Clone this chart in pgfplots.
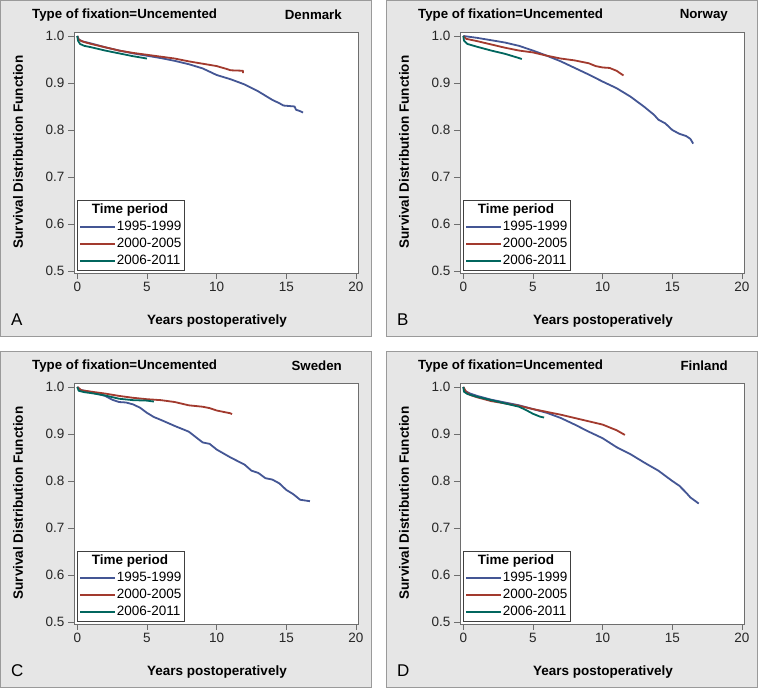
\documentclass[border=0pt]{standalone}
\usepackage{fontspec}
\setmainfont{Liberation Sans}
\usepackage{pgfplots}
\usepackage{pgfplotstable}
\pgfplotsset{compat=1.18}
\definecolor{sasblue}{HTML}{445694}
\definecolor{sasred}{HTML}{A23A2E}
\definecolor{sasgreen}{HTML}{01665E}
\definecolor{panelbg}{HTML}{E6E6E6}
\definecolor{panelframe}{HTML}{9A9A9A}
\definecolor{axisgray}{HTML}{6E6E6E}

% ---------------- Denmark ----------------
\pgfplotstableread{
x y
0 1.0
0.1 0.993
0.3 0.989
1 0.984
2 0.976
3 0.969
4 0.963
5 0.958
6 0.953
7 0.947
8 0.940
9 0.931
10 0.917
11 0.908
12 0.897
13 0.882
14 0.864
14.5 0.857
14.8 0.852
15.6 0.850
15.7 0.843
16 0.840
16.2 0.837
}\dkblue
\pgfplotstableread{
x y
0 1.0
0.1 0.992
0.5 0.987
1 0.983
2 0.976
3 0.969
4 0.964
5 0.960
6 0.956
7 0.952
8 0.946
9 0.941
10 0.936
10.7 0.930
11 0.927
11.9 0.926
11.9 0.921
}\dkred
\pgfplotstableread{
x y
0 1.0
0.05 0.990
0.2 0.983
0.5 0.979
1 0.976
2 0.969
3 0.963
4 0.957
5 0.952
}\dkgreen
% ---------------- Norway ----------------
\pgfplotstableread{
x y
0 1.0
0.5 0.998
1 0.996
2 0.991
3 0.986
4 0.979
5 0.969
6 0.958
7 0.946
8 0.932
9 0.918
10 0.903
11 0.889
12 0.871
13 0.849
13.7 0.832
14 0.822
14.5 0.814
15 0.800
15.5 0.792
16 0.787
16.3 0.781
16.5 0.771
}\noblue
\pgfplotstableread{
x y
0 1.0
0.2 0.994
1 0.989
2 0.982
3 0.975
4 0.969
5 0.965
6 0.958
7 0.952
8 0.948
9 0.942
9.5 0.936
10 0.933
10.5 0.932
11 0.926
11.5 0.916
}\nored
\pgfplotstableread{
x y
0 1.0
0.05 0.990
0.3 0.983
1 0.977
2 0.969
3 0.962
4 0.953
4.2 0.951
}\nogreen
% ---------------- Sweden ----------------
\pgfplotstableread{
x y
0 1.0
0.2 0.994
1 0.989
2 0.981
2.5 0.973
3 0.968
3.5 0.967
4 0.963
4.5 0.956
5 0.945
5.5 0.936
6 0.930
7 0.917
8 0.905
9 0.882
9.5 0.879
10 0.867
11 0.850
12 0.835
12.5 0.822
13 0.817
13.5 0.806
14 0.803
14.5 0.795
15 0.781
15.5 0.772
16 0.760
16.7 0.757
}\seblue
\pgfplotstableread{
x y
0 1.0
0.3 0.993
1 0.990
2 0.986
3 0.981
4 0.977
5 0.974
6 0.972
7 0.968
8 0.961
9 0.958
9.5 0.955
10 0.950
10.5 0.947
11 0.944
11.1 0.942
}\sered
\pgfplotstableread{
x y
0 1.0
0.1 0.992
0.5 0.989
1 0.987
2 0.982
3 0.975
4 0.972
5 0.971
5.5 0.969
}\segreen
% ---------------- Finland ----------------
\pgfplotstableread{
x y
0 1.0
0.1 0.992
0.5 0.986
1 0.981
2 0.973
3 0.967
4 0.961
5 0.953
6 0.945
7 0.934
8 0.920
9 0.905
10 0.891
11 0.872
12 0.857
13 0.839
14 0.822
15 0.800
15.5 0.790
16 0.775
16.3 0.765
16.9 0.752
}\fiblue
\pgfplotstableread{
x y
0 1.0
0.2 0.990
0.5 0.983
1 0.978
2 0.970
3 0.965
4 0.960
5 0.953
6 0.947
7 0.941
8 0.934
9 0.927
10 0.920
11 0.908
11.6 0.898
}\fired
\pgfplotstableread{
x y
0 1.0
0.05 0.990
0.3 0.985
1 0.979
2 0.972
3 0.965
4 0.958
4.5 0.951
5 0.943
5.5 0.937
5.8 0.935
}\figreen

\pgfplotsset{kmaxis/.style={
  scale only axis, width=284pt, height=241pt, anchor=south west,
  xmin=-0.237, xmax=20.15, ymin=0.4957, ymax=1.0085,
  xtick={0,5,10,15,20}, ytick={0.5,0.6,0.7,0.8,0.9,1.0},
  yticklabel style={/pgf/number format/.cd, fixed, fixed zerofill, precision=1},
  /pgf/number format/assume math mode=true,
  tick align=outside, xtick pos=bottom, ytick pos=left, major tick length=6pt,
  axis line style={axisgray, line width=0.8pt},
  every tick/.style={axisgray, line width=0.8pt},
  ticklabel style={font=\fontsize{13.5}{16}\selectfont, text=black!85},
  axis background/.style={fill=white},
  legend style={at={(axis description cs:0.0106,0.0083)}, anchor=south west,
    draw=black!75, line width=0.6pt, fill=white,
    font=\fontsize{13.5}{16}\selectfont, inner xsep=2pt, inner ysep=1pt,
    row sep=0pt,
    nodes={inner sep=1pt, text height=11pt, text depth=4pt, anchor=west}},
  legend cell align=left,
  legend image code/.code={\draw[#1, line width=1.5pt] (0pt,0pt) -- (35pt,0pt);},
  every axis plot/.append style={line width=1.8pt, line join=round},
}}

\newcommand{\panel}[4]{%
  \filldraw[fill=panelbg, draw=panelframe, line width=1pt] (#1pt+0.5pt,#2pt-0.5pt) rectangle (#1pt+371.5pt,#2pt-336.5pt);
  \node[anchor=west, inner sep=0pt, font=\fontsize{13.3}{16}\selectfont\bfseries] at (#1pt+32pt,#2pt-15pt) {Type of fixation=Uncemented};
  \node[anchor=east, inner sep=0pt, font=\fontsize{13.3}{16}\selectfont\bfseries] at (#1pt+342pt,#2pt-15pt) {#3};
  \node[rotate=90, font=\fontsize{13.5}{16}\selectfont\bfseries] at (#1pt+18pt,#2pt-152pt) {Survival Distribution Function};
  \node[font=\fontsize{13.5}{16}\selectfont\bfseries] at (#1pt+217pt,#2pt-321pt) {Years postoperatively};
  \node[anchor=west, inner sep=0pt, font=\fontsize{17}{20}\selectfont] at (#1pt+11pt,#2pt-320pt) {#4};
}

\newcommand{\kmplots}[3]{%
  \addlegendimage{empty legend}\addlegendentry{\hspace*{-25pt}\textbf{Time period}}
  \addplot[sasblue] table {#1}; \addlegendentry{1995-1999}
  \addplot[sasred] table {#2}; \addlegendentry{2000-2005}
  \addplot[sasgreen] table {#3}; \addlegendentry{2006-2011}
}

\begin{document}
\begin{tikzpicture}
\fill[white] (0pt,0pt) rectangle (758pt,688pt);
\panel{0}{688}{Denmark}{A}
\panel{386}{688}{Norway}{B}
\panel{0}{337}{Sweden}{C}
\panel{386}{337}{Finland}{D}

\begin{axis}[kmaxis, at={(74pt,415pt)}]
\kmplots{\dkblue}{\dkred}{\dkgreen}
\end{axis}
\begin{axis}[kmaxis, at={(460pt,415pt)}]
\kmplots{\noblue}{\nored}{\nogreen}
\end{axis}
\begin{axis}[kmaxis, at={(74pt,64pt)}]
\kmplots{\seblue}{\sered}{\segreen}
\end{axis}
\begin{axis}[kmaxis, at={(460pt,64pt)}]
\kmplots{\fiblue}{\fired}{\figreen}
\end{axis}
\end{tikzpicture}
\end{document}
